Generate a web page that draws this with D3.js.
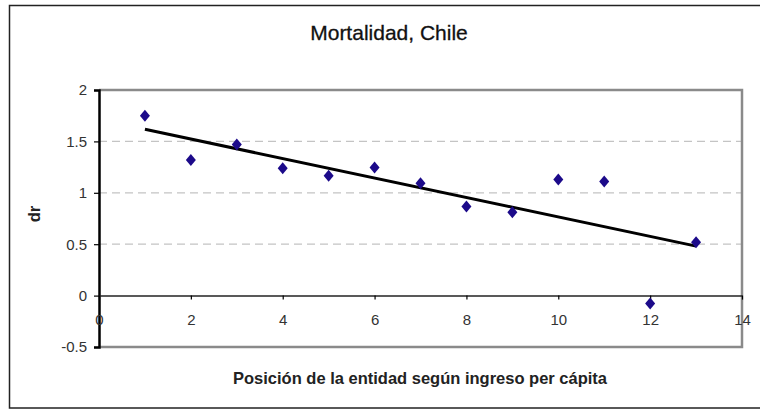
<!DOCTYPE html>
<html><head><meta charset="utf-8">
<script src="https://cdn.jsdelivr.net/npm/d3@7"></script>
<style>html,body{margin:0;padding:0;background:#fff;}svg{display:block;font-family:"Liberation Sans",Arial,sans-serif;}</style>
</head><body>
<svg id="c" width="760" height="412"></svg>
<script>
const posiciones = [1,2,3,4,5,6,7,8,9,10,11,12,13];
const drValues = [1.75,1.32,1.47,1.24,1.165,1.245,1.094,0.867,0.81,1.13,1.11,-0.078,0.52];
const xTicks = [0,2,4,6,8,10,12,14];
const yTicks = [-0.5,0,0.5,1,1.5,2];
const gridVals = [0.5,1,1.5];
const title = "Mortalidad, Chile";
const xTitle = "Posición de la entidad según ingreso per cápita";
const yTitle = "dr";

const svg = d3.select("#c");
const L = 99, R = 742, T = 90, B = 347;
const x = d3.scaleLinear().domain([0,14]).range([L,R]);
const y = d3.scaleLinear().domain([-0.5,2]).range([B,T]);
const FONT = "'Liberation Sans',Arial,sans-serif";

// outer frame
svg.append("rect").attr("x",9.5).attr("y",5.5).attr("width",760).attr("height",402.5)
  .attr("fill","none").attr("stroke","#222").attr("stroke-width",1.5);

// title
svg.append("text").attr("x",389).attr("y",40).attr("text-anchor","middle")
  .attr("font-size",21).attr("fill","#111").attr("stroke","#111").attr("stroke-width",0.3).text(title);

// gridlines
svg.append("g").selectAll("line").data(gridVals).join("line")
  .attr("x1",L).attr("x2",R).attr("y1",d=>y(d)).attr("y2",d=>y(d))
  .attr("stroke","#c4c4c4").attr("stroke-width",1.3).attr("stroke-dasharray","8,5");

// plot border (top, right, bottom)
svg.append("path").attr("d",`M${L},${T}H${R}V${B}H${L}`).attr("fill","none")
  .attr("stroke","#8a8a8a").attr("stroke-width",2.5);

// y axis
const yAxis = d3.axisLeft(y).tickValues(yTicks).tickSize(5).tickPadding(7)
  .tickFormat(d=>String(d));
const gy = svg.append("g").attr("transform",`translate(${L},0)`).call(yAxis);
gy.select(".domain").attr("stroke","#000").attr("stroke-width",2.5);
gy.selectAll(".tick line").attr("stroke","#000").attr("stroke-width",1.2);
gy.selectAll(".tick text").attr("font-size",15).attr("fill","#333").attr("font-family",FONT);

// x axis at y=0
const xAxis = d3.axisBottom(x).tickValues(xTicks).tickSize(4).tickPadding(15).tickSizeOuter(0)
  .tickFormat(d=>String(d));
const gx = svg.append("g").attr("transform",`translate(0,${y(0)})`).call(xAxis);
gx.select(".domain").attr("stroke","#222").attr("stroke-width",1.5);
gx.selectAll(".tick line").attr("stroke","#000").attr("stroke-width",1.2);
gx.selectAll(".tick text").attr("font-size",15).attr("fill","#333").attr("font-family",FONT);

// linear regression trendline from data
const mx = d3.mean(posiciones), my = d3.mean(drValues);
const sxy = d3.sum(posiciones.map((v,i)=>(v-mx)*(drValues[i]-my)));
const sxx = d3.sum(posiciones.map(v=>(v-mx)*(v-mx)));
const slope = sxy/sxx, icpt = my - slope*mx;
const x0 = d3.min(posiciones), x1 = d3.max(posiciones);
svg.append("line").attr("x1",x(x0)).attr("y1",y(icpt+slope*x0))
  .attr("x2",x(x1)).attr("y2",y(icpt+slope*x1))
  .attr("stroke","#000").attr("stroke-width",3);

// points
svg.append("g").selectAll("path").data(posiciones).join("path")
  .attr("d","M0,-6L5,0L0,6L-5,0Z")
  .attr("transform",(d,i)=>`translate(${x(d)},${y(drValues[i])})`)
  .attr("fill","#1c0a8a");

// axis titles
svg.append("text").attr("x",420).attr("y",384).attr("text-anchor","middle")
  .attr("font-size",16.5).attr("font-weight","bold").attr("fill","#222").text(xTitle);
svg.append("text").attr("transform","translate(40,214) rotate(-90)").attr("text-anchor","middle")
  .attr("font-size",16.5).attr("font-weight","bold").attr("fill","#222").text(yTitle);
</script>
</body></html>
